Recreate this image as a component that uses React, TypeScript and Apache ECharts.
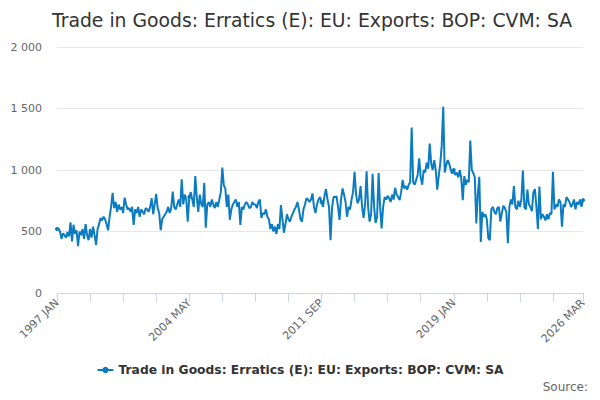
import React, { useEffect, useRef } from "react";
import * as echarts from "echarts";

const MONTHS = ["JAN", "FEB", "MAR", "APR", "MAY", "JUN", "JUL", "AUG", "SEP", "OCT", "NOV", "DEC"];
const START_YEAR = 1997;

const v1997 = [520, 525, 500, 440, 485, 470, 450, 495, 460, 575, 420, 555];
const v1998 = [480, 510, 380, 500, 470, 520, 440, 560, 470, 430, 520, 450];
const v1999 = [540, 470, 390, 520, 560, 610, 590, 620, 600, 560, 510, 620];
const v2000 = [700, 815, 690, 740, 660, 720, 680, 700, 650, 775, 720, 680];
const v2001 = [690, 660, 700, 553, 680, 650, 700, 620, 680, 660, 640, 690];
const v2002 = [680, 660, 700, 770, 640, 720, 805, 690, 650, 510, 600, 620];
const v2003 = [640, 660, 700, 650, 690, 825, 700, 680, 720, 760, 700, 925];
const v2004 = [720, 800, 760, 580, 780, 820, 760, 700, 950, 780, 660, 800];
const v2005 = [720, 700, 895, 530, 720, 740, 700, 760, 720, 690, 740, 700];
const v2006 = [760, 820, 1020, 875, 850, 700, 800, 595, 680, 720, 740, 760];
const v2007 = [700, 740, 553, 700, 680, 720, 740, 720, 690, 700, 740, 720];
const v2008 = [720, 690, 740, 760, 610, 650, 640, 680, 620, 600, 520, 560];
const v2009 = [500, 540, 480, 560, 520, 715, 600, 490, 560, 640, 600, 580];
const v2010 = [620, 650, 680, 700, 740, 680, 600, 580, 680, 720, 770, 760];
const v2011 = [740, 760, 810, 700, 650, 720, 760, 780, 740, 700, 790, 845];
const v2012 = [760, 700, 430, 690, 780, 780, 785, 700, 595, 760, 850, 800];
const v2013 = [740, 620, 700, 680, 760, 820, 985, 800, 730, 760, 870, 700];
const v2014 = [610, 720, 990, 700, 580, 640, 970, 700, 570, 620, 975, 700];
const v2015 = [525, 700, 780, 760, 790, 770, 740, 800, 760, 855, 800, 780];
const v2016 = [755, 820, 920, 850, 870, 840, 880, 900, 1345, 900, 880, 920];
const v2017 = [960, 1095, 940, 880, 1000, 980, 1060, 1010, 1215, 1050, 1000, 1080];
const v2018 = [1000, 840, 950, 1050, 1200, 1515, 980, 1040, 1080, 1050, 1000, 970];
const v2019 = [1000, 960, 980, 940, 1000, 930, 755, 950, 880, 920, 900, 1240];
const v2020 = [1000, 975, 940, 565, 800, 945, 415, 660, 620, 640, 600, 445];
const v2021 = [430, 680, 700, 660, 640, 690, 700, 580, 650, 710, 690, 660];
const v2022 = [405, 700, 760, 720, 870, 700, 680, 750, 700, 760, 995, 700];
const v2023 = [680, 840, 720, 700, 665, 820, 845, 700, 520, 865, 600, 640];
const v2024 = [620, 590, 640, 600, 650, 640, 985, 680, 720, 700, 760, 740];
const v2025 = [540, 720, 700, 780, 760, 740, 700, 720, 760, 680, 740, 720];
const v2026 = [760, 700, 755];

const values: number[] = [
  ...v1997, ...v1998, ...v1999, ...v2000, ...v2001, ...v2002, ...v2003, ...v2004,
  ...v2005, ...v2006, ...v2007, ...v2008, ...v2009, ...v2010, ...v2011, ...v2012,
  ...v2013, ...v2014, ...v2015, ...v2016, ...v2017, ...v2018, ...v2019, ...v2020,
  ...v2021, ...v2022, ...v2023, ...v2024, ...v2025, ...v2026,
];

const categories: string[] = values.map(
  (_, i) => `${START_YEAR + Math.floor(i / 12)} ${MONTHS[i % 12]}`
);

const TITLE = "Trade in Goods: Erratics (E): EU: Exports: BOP: CVM: SA";
const SERIES_NAME = "Trade in Goods: Erratics (E): EU: Exports: BOP: CVM: SA";
const FONT = "'DejaVu Sans', sans-serif";
const COLOR = "#0b7cc1";

export default function App() {
  const ref = useRef<HTMLDivElement>(null);
  useEffect(() => {
    if (!ref.current) return;
    const chart = echarts.init(ref.current, null, { renderer: "svg" });
    chart.setOption({
      animation: false,
      textStyle: { fontFamily: FONT },
      title: {
        text: TITLE,
        left: 47,
        top: 6,
        textStyle: { fontSize: 18.8, fontWeight: "normal", color: "#333", fontFamily: FONT },
      },
      grid: { left: 57, right: 17, top: 47, bottom: 107, containLabel: false },
      legend: {
        bottom: 19,
        left: "center",
        itemWidth: 16,
        itemHeight: 8,
        itemGap: 5,
        textStyle: { fontSize: 12.3, fontWeight: "bold", color: "#333", fontFamily: FONT },
        data: [SERIES_NAME],
      },
      graphic: [
        {
          type: "text",
          right: 12,
          top: 381,
          style: { text: "Source:", fontSize: 12, fill: "#666", fontFamily: FONT },
        },
      ],
      xAxis: {
        type: "category",
        data: categories,
        boundaryGap: false,
        axisLine: { lineStyle: { color: "#ccd6eb" } },
        axisTick: { show: true, interval: 21, length: 9, lineStyle: { color: "#ccd6eb" } },
        axisLabel: {
          interval: 87,
          showMaxLabel: true,
          rotate: 45,
          color: "#666",
          fontSize: 11,
          fontFamily: FONT,
          margin: 8,
        },
        splitLine: { show: false },
      },
      yAxis: {
        type: "value",
        min: 0,
        max: 2000,
        interval: 500,
        axisLine: { show: false },
        axisTick: { show: false },
        splitLine: { lineStyle: { color: "#e6e6e6" } },
        axisLabel: {
          color: "#666",
          fontSize: 11,
          fontFamily: FONT,
          margin: 15,
          formatter: (v: number) => String(v).replace(/\B(?=(\d{3})+(?!\d))/g, " "),
        },
      },
      series: [
        {
          name: SERIES_NAME,
          type: "line",
          data: values,
          color: COLOR,
          showSymbol: true,
          symbol: "circle",
          symbolSize: 4,
          lineStyle: { width: 2, color: COLOR },
          itemStyle: { color: COLOR },
        },
      ],
    });
    return () => chart.dispose();
  }, []);
  return <div ref={ref} style={{ width: 600, height: 400, margin: -8 }} />;
}
